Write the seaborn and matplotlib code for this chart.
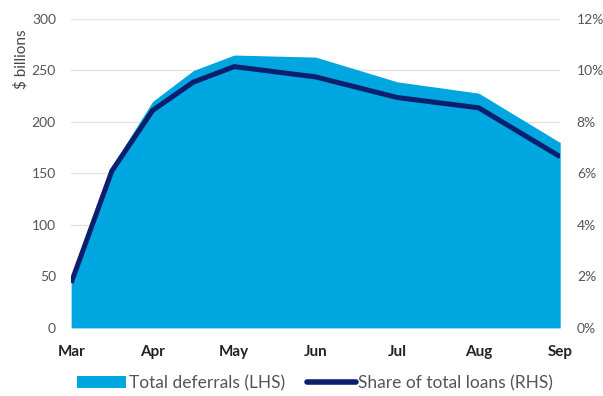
import matplotlib
matplotlib.use("Agg")
import matplotlib.pyplot as plt
import matplotlib.ticker as mtick
from matplotlib.patches import Patch
from matplotlib.lines import Line2D
import pandas as pd
import seaborn as sns

# data (x = months since start of March)
month_pos = [0, 0.5, 1, 1.5, 2, 3, 4, 5, 6]
deferrals = [45, 157, 220, 250, 265, 263, 239, 228, 180]          # $ billions (LHS)
share_loans = [1.75, 6.1, 8.45, 9.55, 10.15, 9.75, 8.95, 8.55, 6.65]  # % (RHS)
month_labels = ["Mar", "Apr", "May", "Jun", "Jul", "Aug", "Sep"]

df = pd.DataFrame({"pos": month_pos, "deferrals": deferrals,
                   "share": [v / 100 for v in share_loans]})

area_col = "#00A6DF"
line_col = "#0B1F6E"
grey_txt = "#555555"

sns.set_theme(style="white")
plt.rcParams["font.family"] = ["Lato", "DejaVu Sans"]

fig = plt.figure(figsize=(6.03, 3.96), dpi=100)
ax = fig.add_axes([0.118, 0.172, 0.811, 0.780])

ax.fill_between(df["pos"], 0, df["deferrals"], color=area_col, lw=0, zorder=2)
ax.set_ylim(0, 300)
ax.set_xlim(0, 6)
ax.set_yticks(range(0, 301, 50))
ax.yaxis.grid(True, color="#e3e3e3", lw=1, zorder=0)
ax.set_axisbelow(True)
ax.set_xticks(range(7))
ax.set_xticklabels(month_labels, fontweight="bold", fontsize=11, color="#222222")
ax.tick_params(axis="x", length=0, pad=12)
ax.tick_params(axis="y", length=0, pad=11, labelsize=10, labelcolor=grey_txt)
ax.set_ylabel("$ billions", fontsize=11, color="#444444")
ax.yaxis.set_label_coords(-0.088, 0.87)
for s in ax.spines.values():
    s.set_visible(False)

ax2 = ax.twinx()
sns.lineplot(data=df, x="pos", y="share", ax=ax2, color=line_col, lw=3.6,
             solid_capstyle="butt", legend=False)
ax2.set_ylim(0, 0.12)
ax2.set_yticks([0, 0.02, 0.04, 0.06, 0.08, 0.10, 0.12])
ax2.yaxis.set_major_formatter(mtick.PercentFormatter(1.0, decimals=0))
ax2.tick_params(axis="y", length=0, pad=12, labelsize=10, labelcolor=grey_txt)
ax2.set_ylabel("")
ax2.set_xlabel("")
ax.set_xlabel("")
ax2.grid(False)
for s in ax2.spines.values():
    s.set_visible(False)

handles = [Patch(facecolor=area_col, edgecolor="none"),
           Line2D([0], [0], color=line_col, lw=4)]
fig.legend(handles, ["Total deferrals (LHS)", "Share of total loans (RHS)"],
           loc="center", bbox_to_anchor=(0.523, 0.033), ncol=2, frameon=False,
           fontsize=12.5, labelcolor=grey_txt, handlelength=2.8,
           handletextpad=0.15, columnspacing=1.3)

fig.savefig("out.png", dpi=100)
